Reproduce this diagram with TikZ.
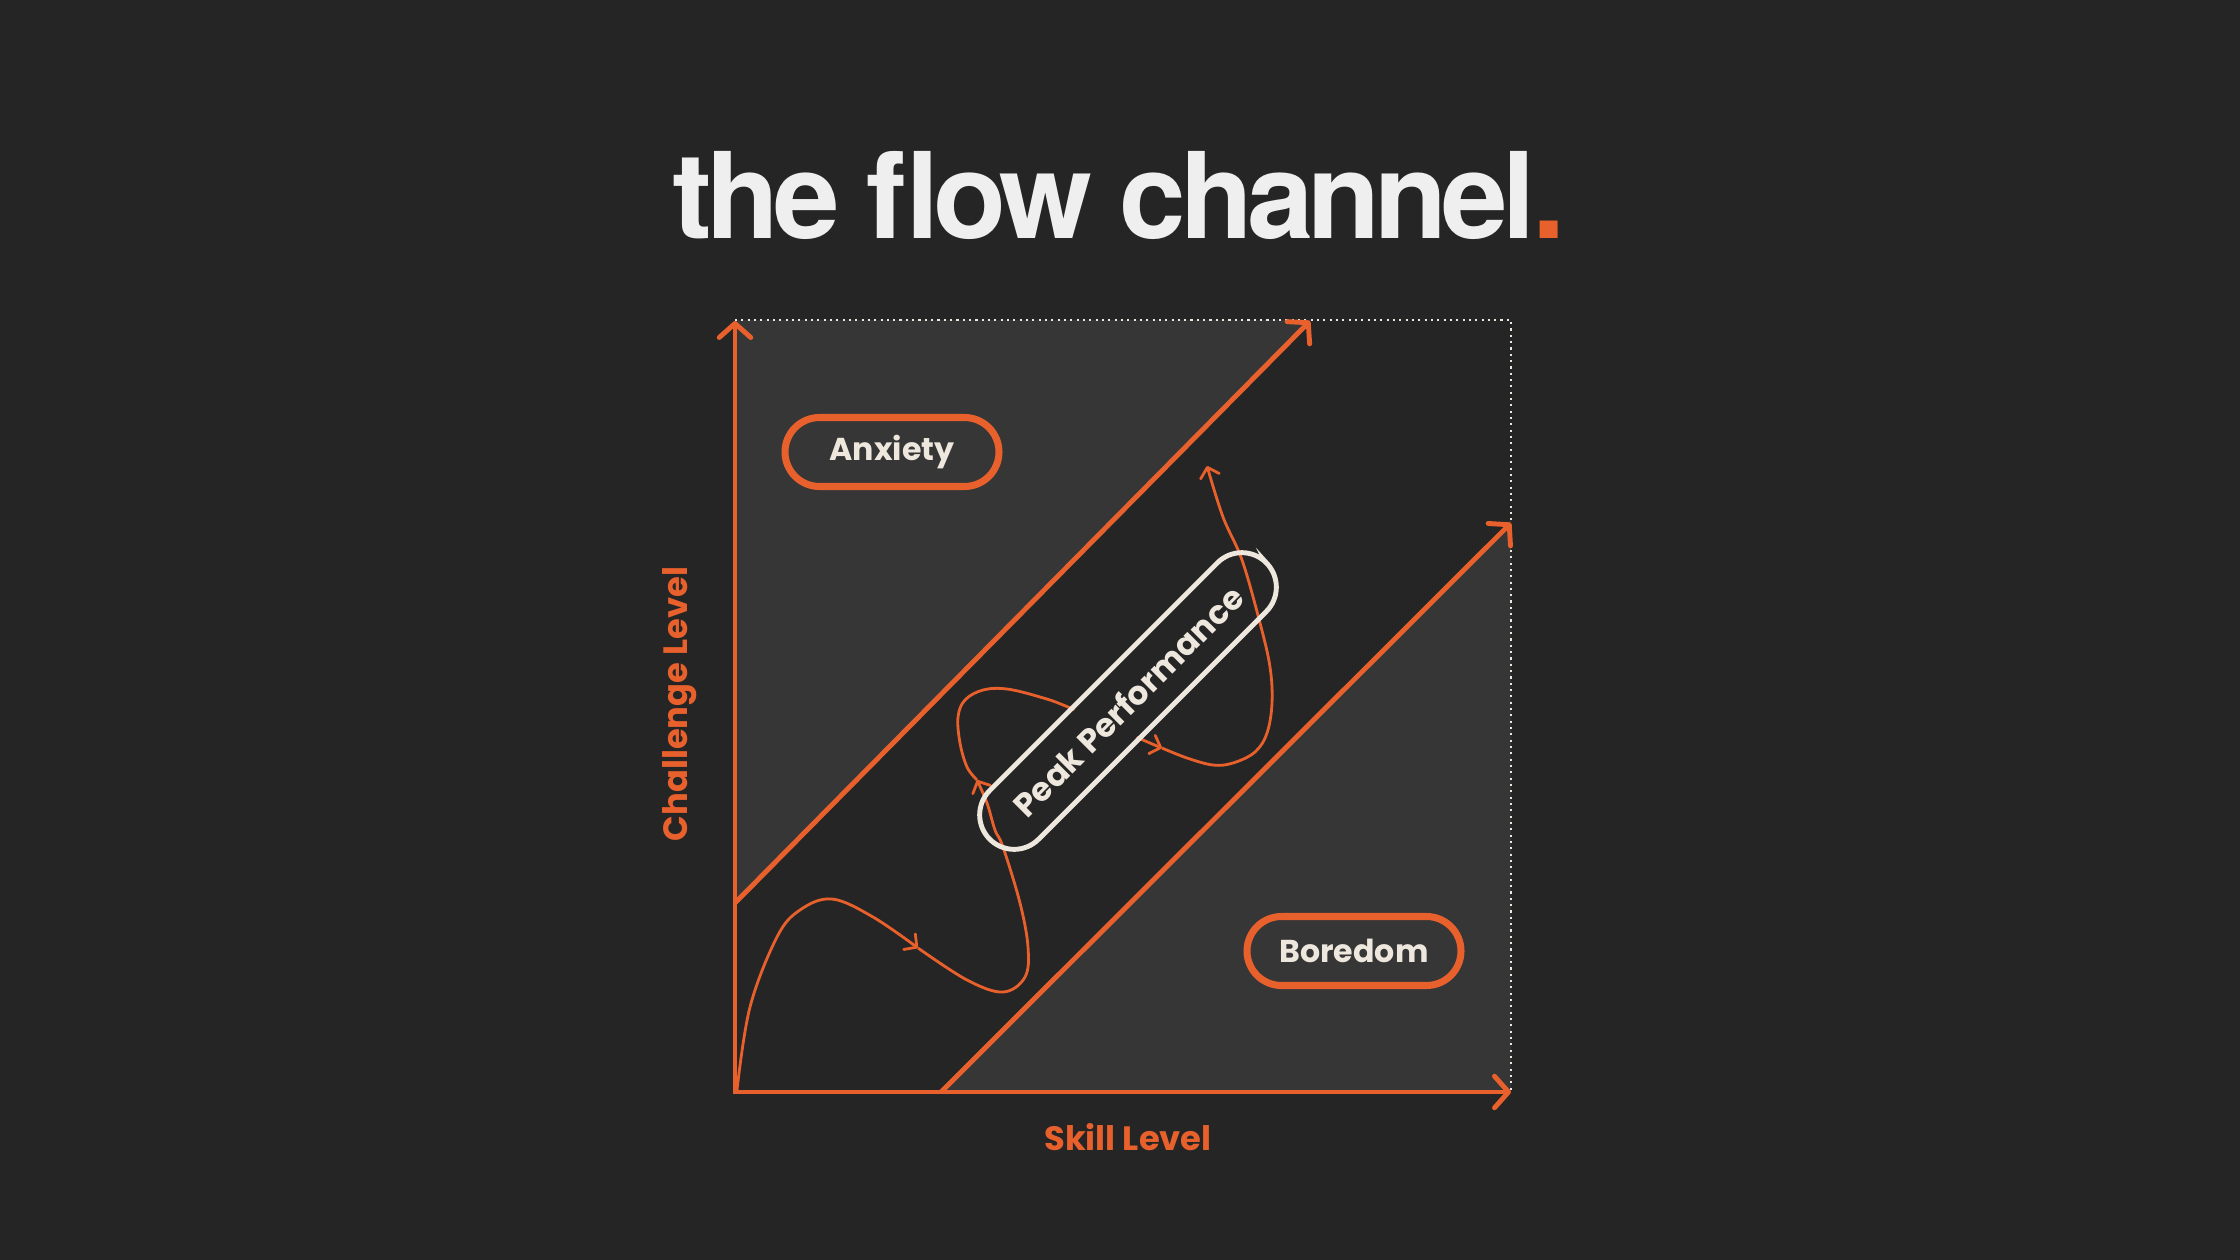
\documentclass[tikz,border=0pt]{standalone}
\usepackage{fontspec}
\setmainfont{Poppins}
\newfontfamily\titlefont[LetterSpace=-5]{TeX Gyre Heros}
\usetikzlibrary{arrows.meta}
\definecolor{bg}{HTML}{252525}
\definecolor{zone}{HTML}{363636}
\definecolor{flame}{HTML}{E8602C}
\definecolor{cream}{HTML}{EEE7DE}
\definecolor{snow}{HTML}{EFEFEF}
\begin{document}
\begin{tikzpicture}[x=0.1mm,y=-0.1mm,
  axis/.style={flame,line width=1.4pt,-{Straight Barb[round,length=4pt,width=9pt]}},
  pill/.style={draw=flame,line width=2pt,rounded corners=3.45mm,minimum width=21.4mm,minimum height=6.9mm,text=cream,font=\bfseries\fontsize{9}{11}\selectfont},
  tag/.style={flame,font=\bfseries\fontsize{9.6}{11}\selectfont},
  trail/.style={flame,line width=0.8pt,-{Straight Barb[round,length=2.6pt,width=5.5pt]}}]
\fill[bg] (0,0) rectangle (2240,1260);
\useasboundingbox (0,0) rectangle (2240,1260);
\coordinate (O) at (735,1092); \coordinate (ytop) at (735,321); \coordinate (xend) at (1511,1092);
\coordinate (corner) at (1511,320); \coordinate (a0) at (735,903); \coordinate (a1) at (1310,321);
\coordinate (b0) at (941,1092); \coordinate (b1) at (1511,523);
\fill[zone] (735,320)--(1311,320)--(735,904)--cycle;
\fill[zone] (939,1092)--(1511,520)--(1511,1092)--cycle;
\draw[cream,line width=0.6pt,dash pattern=on 0.6pt off 1.2pt] (735,320)--(corner)--(xend);
\draw[axis] (a0)--(a1); \draw[axis] (b0)--(b1);
\draw[axis,{Straight Barb[round,length=4pt,width=9pt]}-{Straight Barb[round,length=4pt,width=9pt]}] (ytop)--(O)--(xend);
\node[text=snow,font=\titlefont\fontsize{34}{40}\selectfont\bfseries,anchor=base] (title) at (1119,238) {the flow channel\kern-0.8pt\textcolor{flame}{.}};
\node[pill] (anxiety) at (892,452) {Anxiety};
\node[pill] (boredom) at (1354,951) {Boredom};
\node[tag,rotate=90] (challenge) at (680,704) {Challenge Level};
\node[tag] (skill) at (1128,1137) {Skill Level};
% path through the channel
\draw[trail] plot[smooth,tension=0.6] coordinates {(737,1090)(750,1007)(777,937)(800,910)(832,899)(873,917)(918,948)};
\draw[trail] plot[smooth,tension=0.6] coordinates {(918,948)(967,980)(1003,992)(1025,977)(1028,947)(1020,903)(1003,847)(995,830)(987,803)(977,780)};
\draw[trail] plot[smooth,tension=0.6] coordinates {(977,780)(967,767)(960,743)(958,717)(965,700)(983,690)(1007,689)(1040,697)(1068,707)(1143,740)(1162,748)};
\draw[trail] plot[smooth,tension=0.6] coordinates {(1162,748)(1187,758)(1213,765)(1233,763)(1255,752)(1267,733)(1272,703)(1270,667)(1260,623)(1242,560)(1223,517)(1207,466)};
\node[fill=bg,rotate=45,minimum width=29mm,minimum height=6.3mm,inner sep=0pt] (mask) at (1128,701) {};
\node[draw=cream,line width=1.4pt,rotate=45,rounded corners=3.45mm,minimum width=39.1mm,minimum height=6.9mm,text=cream,font=\bfseries\fontsize{9.3}{11}\selectfont] (peak) at (1128,701) {Peak Performance};
\end{tikzpicture}
\end{document}
